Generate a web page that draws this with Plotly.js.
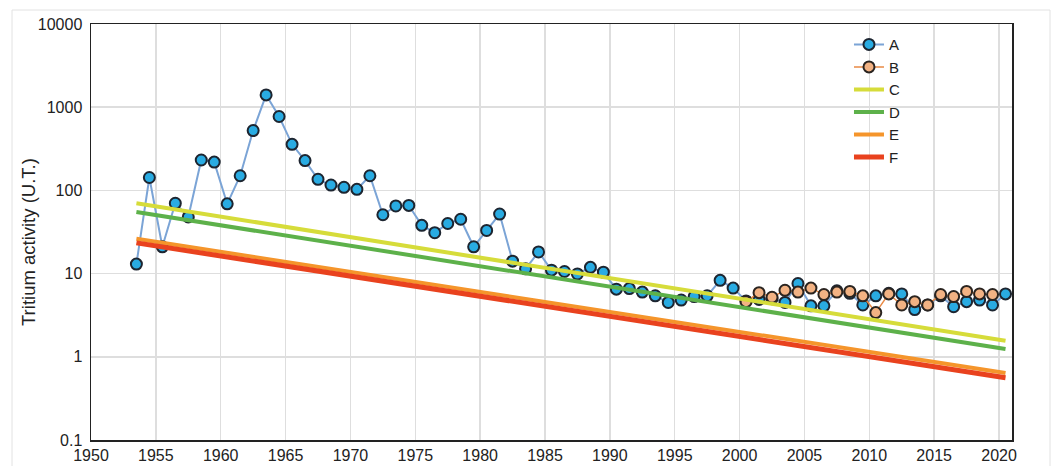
<!DOCTYPE html>
<html>
<head>
<meta charset="utf-8">
<script src="https://cdn.plot.ly/plotly-3.0.1.min.js"></script>
<style>html,body{margin:0;padding:0;background:#fff;}#chart{width:1055px;height:466px;}</style>
</head>
<body>
<div id="chart"></div>
<script>
// Series A: annual values, 1953.5 .. 2020.5
const yearsA = [];
for (let y = 1953; y <= 2020; y++) yearsA.push(y + 0.5);
const valuesA = [
  13, 143, 21, 70, 48, 232, 219, 69, 150, 524,
  1406, 773, 358, 228, 136, 116, 109, 103, 150, 51,
  65, 66, 38, 31, 40, 45, 21, 33, 52, 14.1,
  11.4, 18.2, 11, 10.6, 9.9, 11.9, 10.4, 6.5, 6.6, 6.0,
  5.4, 4.5, 4.8, 5.3, 5.4, 8.3, 6.7, 4.7, 4.9, 5.0,
  4.5, 7.6, 4.1, 4.1, 6.2, 5.8, 4.2, 5.4, 5.8, 5.7,
  3.7, 4.2, 5.4, 4.0, 4.6, 4.8, 4.2, 5.7
];
// Series B: annual values, 2000.5 .. 2019.5
const yearsB = [];
for (let y = 2000; y <= 2019; y++) yearsB.push(y + 0.5);
const valuesB = [
  4.6, 5.9, 5.2, 6.3, 6.0, 6.7, 5.6, 6.0, 6.1, 5.4,
  3.4, 5.7, 4.2, 4.6, 4.2, 5.6, 5.3, 6.1, 5.7, 5.6
];
// Decay lines C-F: start and end values
const yearsLine = [1953.5, 2020.5];
const valuesC = [70, 1.56];
const valuesD = [55, 1.24];
const valuesE = [26.2, 0.64];
const valuesF = [23.4, 0.56];

const names = ['A', 'B', 'C', 'D', 'E', 'F'];
const xTicks = [1950,1955,1960,1965,1970,1975,1980,1985,1990,1995,2000,2005,2010,2015,2020];
const yTicks = [0.1, 1, 10, 100, 1000, 10000];
const yTickText = ['0.1', '1', '10', '100', '1000', '10000'];
const yTitle = 'Tritium activity (U.T.)';

const font = '"Liberation Sans Narrow", "Arial Narrow", "Liberation Sans", sans-serif';

const traces = [
  {x: yearsA, y: valuesA, name: names[0], mode: 'lines+markers', type: 'scatter',
   line: {color: '#7ba4d6', width: 2},
   marker: {color: '#29abe2', size: 11, line: {color: '#1d2530', width: 2}}},
  {x: yearsB, y: valuesB, name: names[1], mode: 'lines+markers', type: 'scatter',
   line: {color: '#e98a45', width: 1.5},
   marker: {color: '#f2b283', size: 11, line: {color: '#2a2420', width: 2}}},
  {x: yearsLine, y: valuesC, name: names[2], mode: 'lines', type: 'scatter',
   line: {color: '#d6dc3a', width: 4}},
  {x: yearsLine, y: valuesD, name: names[3], mode: 'lines', type: 'scatter',
   line: {color: '#5db14a', width: 4}},
  {x: yearsLine, y: valuesE, name: names[4], mode: 'lines', type: 'scatter',
   line: {color: '#f5952b', width: 4}},
  {x: yearsLine, y: valuesF, name: names[5], mode: 'lines', type: 'scatter',
   line: {color: '#e9421e', width: 5}}
];

const layout = {
  width: 1055, height: 466,
  margin: {l: 91, r: 43, t: 24, b: 26},
  paper_bgcolor: '#fff', plot_bgcolor: '#fff',
  font: {family: font, size: 16, color: '#222'},
  showlegend: true,
  legend: {x: 0.823, y: 0.99, xanchor: 'left', yanchor: 'top',
           font: {family: '"Liberation Sans", Arial, sans-serif', size: 15, color: '#222'},
           bgcolor: 'rgba(255,255,255,0)', itemwidth: 30, tracegroupgap: 0},
  xaxis: {range: [1950, 2021], tickvals: xTicks, ticktext: xTicks.map(String),
          showgrid: true, gridcolor: '#dedede', gridwidth: 1.5,
          showline: true, linecolor: '#222', linewidth: 1.5, mirror: true,
          ticks: '', zeroline: false, tickfont: {size: 16}},
  yaxis: {type: 'log', range: [-1, 4], tickvals: yTicks, ticktext: yTickText,
          showgrid: true, gridcolor: '#dedede', gridwidth: 1.5,
          showline: true, linecolor: '#222', linewidth: 1.5, mirror: true,
          ticks: '', zeroline: false, tickfont: {size: 16}, ticklabelstandoff: 4},
  annotations: [
    {text: yTitle, xref: 'paper', yref: 'paper', x: (28 - 91) / 921, y: (440 - 242) / 416,
     xanchor: 'center', yanchor: 'middle', textangle: -90, showarrow: false,
     font: {family: '"Liberation Sans", Arial, sans-serif', size: 18.5, color: '#222'}}
  ],
  shapes: [
    {type: 'rect', xref: 'paper', yref: 'paper',
     x0: (12 - 91) / 921, x1: (1050 - 91) / 921,
     y0: -0.2, y1: 1 + (24 - 10) / 416,
     line: {color: '#e2e2e2', width: 1}, layer: 'below'}
  ]
};

Plotly.newPlot('chart', traces, layout, {displayModeBar: false, staticPlot: true});
</script>
</body>
</html>
